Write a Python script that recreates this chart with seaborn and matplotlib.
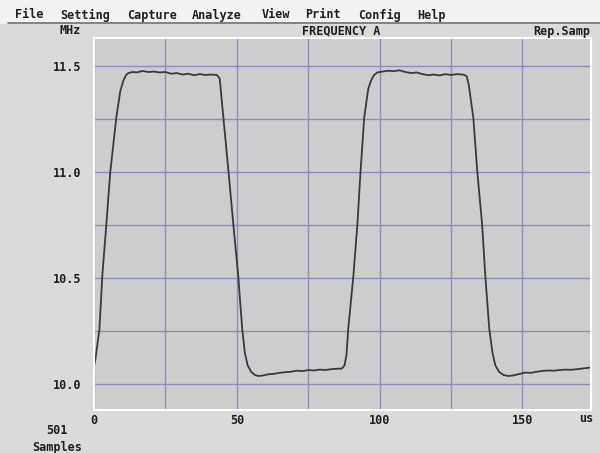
"""
Frequency vs time capture screen (FREQUENCY A, 501 samples).
"""
import matplotlib
matplotlib.use('Agg')
import matplotlib.pyplot as plt
import matplotlib.ticker as mticker
from matplotlib.patches import Rectangle
from matplotlib.lines import Line2D
import seaborn as sns

# ── Data (time in us, frequency in MHz) ──
time_us = [
    0.0, 0.5, 1.9, 2.9, 4.3, 5.7, 7.8, 9.2, 10.3, 11.2,
    12.0, 13.5, 15, 17, 19, 21, 23, 25, 27, 29,
    31, 33, 35, 37, 39, 41, 43, 44.0, 45.3, 47.1,
    48.8, 50.5, 51.9, 52.8, 53.8, 55.0, 56.3, 57.5, 59, 61,
    63, 65, 67, 69, 71, 73, 75, 77, 79, 81,
    83, 85, 86.8, 87.7, 88.4, 89.0, 90.8, 92.2, 93.3, 94.6,
    96.0, 97.0, 98.0, 99.2, 101, 103, 105, 107, 109, 111,
    113, 115, 117, 119, 121, 123, 125, 127, 129.3, 130.5,
    131.2, 132.8, 134.2, 135.9, 137.0, 138.4, 139.5, 140.5, 141.8, 143.3,
    145.0, 147, 149, 151, 153, 155, 157, 159, 161, 163,
    165, 167, 169, 171, 174,
]
freq_mhz = [
    10.09, 10.12, 10.26, 10.51, 10.75, 11.00, 11.255, 11.38, 11.43, 11.455,
    11.465, 11.47, 11.468, 11.475, 11.47, 11.472, 11.468, 11.47, 11.462, 11.465,
    11.458, 11.462, 11.455, 11.46, 11.456, 11.458, 11.456, 11.44, 11.255, 11.00,
    10.75, 10.51, 10.26, 10.15, 10.09, 10.06, 10.045, 10.04, 10.042, 10.048,
    10.05, 10.055, 10.058, 10.06, 10.065, 10.063, 10.068, 10.066, 10.07, 10.068,
    10.072, 10.074, 10.075, 10.09, 10.14, 10.26, 10.51, 10.75, 11.00, 11.255,
    11.39, 11.43, 11.455, 11.468, 11.472, 11.476, 11.474, 11.478, 11.47, 11.465,
    11.468, 11.46, 11.455, 11.458, 11.454, 11.46, 11.456, 11.46, 11.458, 11.45,
    11.41, 11.255, 11.00, 10.75, 10.51, 10.26, 10.15, 10.09, 10.06, 10.045,
    10.04, 10.043, 10.05, 10.056, 10.055, 10.06, 10.064, 10.066, 10.065, 10.068,
    10.07, 10.069, 10.072, 10.075, 10.08,
]
y_ticks = [10.0, 10.5, 11.0, 11.5]
y_tick_labels = ['10.0', '10.5', '11.0', '11.5']
x_ticks = [0, 50, 100, 150]
x_tick_labels = ['0', '50', '100', '150']
menu_items = ['File', 'Setting', 'Capture', 'Analyze', 'View', 'Print', 'Config', 'Help']

FIG_BG = '#dadada'
AX_BG = '#cdcdcd'
GRID = '#8c8cbe'
INK = '#1e1e1e'

sns.set_style('whitegrid', {
    'axes.facecolor': AX_BG,
    'figure.facecolor': FIG_BG,
    'grid.color': GRID,
    'axes.edgecolor': 'white',
})
plt.rcParams['font.family'] = ['DejaVu Sans Mono', 'DejaVu Sans']
TXT = dict(fontsize=8.5, fontweight='bold', color=INK)

W, H = 600, 453
fig = plt.figure(figsize=(6, 4.53), dpi=100)
ax = fig.add_axes([94 / W, 1 - 410 / H, (591 - 94) / W, (410 - 38) / H])

sns.lineplot(x=time_us, y=freq_mhz, ax=ax, sort=False, estimator=None,
             color='#3a3a3a', linewidth=1.3)

ax.set_xlim(0, 174)
ax.set_ylim(9.88, 11.63)
ax.xaxis.set_major_locator(mticker.FixedLocator(x_ticks))
ax.xaxis.set_major_formatter(mticker.FixedFormatter(x_tick_labels))
ax.xaxis.set_minor_locator(mticker.MultipleLocator(25))
ax.yaxis.set_major_locator(mticker.FixedLocator(y_ticks))
ax.yaxis.set_major_formatter(mticker.FixedFormatter(y_tick_labels))
ax.yaxis.set_minor_locator(mticker.MultipleLocator(0.25))
ax.set_axisbelow(True)
ax.grid(True, which='major', color=GRID, linewidth=1.0, alpha=1.0)
ax.grid(True, which='minor', color=GRID, linewidth=1.0, alpha=1.0)
ax.tick_params(which='both', length=0)
ax.tick_params(axis='y', pad=9, labelsize=8.5, labelcolor=INK)
ax.tick_params(axis='x', pad=3, labelsize=8.5, labelcolor=INK)
for lab in ax.get_xticklabels() + ax.get_yticklabels():
    lab.set_fontweight('bold')
for sp in ax.spines.values():
    sp.set_visible(True)
    sp.set_color('white')
    sp.set_linewidth(1.5)
ax.set_xlabel('')
ax.set_ylabel('')

# menu bar
fig.patches.append(Rectangle((0, 1 - 23 / H), 1, 23 / H, transform=fig.transFigure,
                             color='#f3f3f3', zorder=0))
fig.lines.append(Line2D([8 / W, 1], [1 - 23 / H, 1 - 23 / H], transform=fig.transFigure,
                        color='#6e6e6e', linewidth=1.2))
menu_x = [15, 60, 127, 192, 262, 305, 358, 417]
for name, mx in zip(menu_items, menu_x):
    fig.text(mx / W, 1 - 15 / H, name, ha='left', va='center', **TXT)

# header row
fig.text(59 / W, 1 - 31 / H, 'MHz', ha='left', va='center', **TXT)
fig.text(341 / W, 1 - 31 / H, 'FREQUENCY A', ha='center', va='center', **TXT)
fig.text(590 / W, 1 - 31 / H, 'Rep.Samp', ha='right', va='center', **TXT)

# footer
fig.text(586 / W, 1 - 419 / H, 'us', ha='center', va='center', **TXT)
fig.text(57 / W, 1 - 431 / H, '501', ha='center', va='center', **TXT)
fig.text(57 / W, 1 - 447 / H, 'Samples', ha='center', va='center', **TXT)

fig.savefig('out.png', dpi=100, facecolor=FIG_BG)
